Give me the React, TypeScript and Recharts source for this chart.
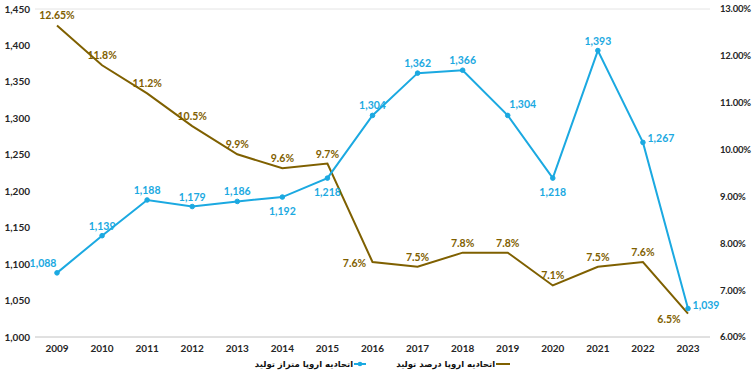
// نمودار اتحادیه اروپا: متراژ تولید (محور چپ) و درصد تولید (محور راست)، ۲۰۰۹ تا ۲۰۲۳
import { LineChart, Line, XAxis, YAxis, CartesianGrid, Legend } from 'recharts'

const years = ['2009', '2010', '2011', '2012', '2013', '2014', '2015', '2016', '2017', '2018', '2019', '2020', '2021', '2022', '2023']
const metrage = [1088, 1139, 1188, 1179, 1186, 1192, 1218, 1304, 1362, 1366, 1304, 1218, 1393, 1267, 1039]
const share = [12.65, 11.8, 11.2, 10.5, 9.9, 9.6, 9.7, 7.6, 7.5, 7.8, 7.8, 7.1, 7.5, 7.6, 6.5]
const shareLabels = ['12.65%', '11.8%', '11.2%', '10.5%', '9.9%', '9.6%', '9.7%', '7.6%', '7.5%', '7.8%', '7.8%', '7.1%', '7.5%', '7.6%', '6.5%']
const leftTicks = [1000, 1050, 1100, 1150, 1200, 1250, 1300, 1350, 1400, 1450]
const rightTicks = [6, 7, 8, 9, 10, 11, 12, 13]

const metrageName = 'اتحادیه اروپا متراز تولید'
const shareName = 'اتحادیه اروپا درصد تولید'

// جای برچسب‌ها نسبت به نقطه (مثل اکسل که بعضی را دستی جابه‌جا کرده)
const metragePlace = ['topLeft', 'top', 'top', 'top', 'top', 'bottom', 'bottom', 'top', 'top', 'top', 'topRight', 'bottom', 'top', 'right', 'right']
const sharePlace = ['top', 'top', 'top', 'top', 'top', 'top', 'top', 'left', 'top', 'top', 'top', 'top', 'top', 'top', 'leftBelow']

const BLUE = '#1BA9E1'
const BROWN = '#7F6000'
const FONT = 'Lato, "DejaVu Sans", sans-serif'

const offsets: Record<string, [number, number]> = {
  top: [0, -10],
  bottom: [0, 14],
  topLeft: [-14, -10],
  topRight: [15, -11],
  right: [18, -4],
  left: [-18, 1],
  leftBelow: [-19, 5],
}

const data = years.map((y, i) => ({ year: y, metrage: metrage[i], share: share[i] }))

function makeLabel(places: string[], color: string, fmt: (i: number, v: number) => string) {
  return (props: any) => {
    const { x, y, index, value } = props
    if (x == null || y == null) return null
    const [dx, dy] = offsets[places[index]] ?? offsets.top
    return (
      <text
        x={x + dx}
        y={y + dy}
        fill={color}
        fontSize={10.5}
        fontWeight={700}
        fontFamily={FONT}
        textAnchor="middle"
        dominantBaseline="central"
      >
        {fmt(index, value)}
      </text>
    )
  }
}

function LegendBox() {
  return (
    <div style={{ height: 14, display: 'flex', justifyContent: 'center', alignItems: 'center', paddingLeft: 12, fontFamily: '"DejaVu Sans", sans-serif', fontWeight: 700, fontSize: 8.5, color: '#111' }}>
      <span>{metrageName}</span>
      <svg width={12} height={8} style={{ marginLeft: 1 }}>
        <line x1={0} y1={4} x2={12} y2={4} stroke={BLUE} strokeWidth={2} />
        <circle cx={6} cy={4} r={2.3} fill={BLUE} />
      </svg>
      <span style={{ marginLeft: 30 }}>{shareName}</span>
      <svg width={14} height={8} style={{ marginLeft: 1 }}>
        <line x1={0} y1={4} x2={14} y2={4} stroke={BROWN} strokeWidth={2} />
      </svg>
    </div>
  )
}

export default function App() {
  const tickStyle = { fontSize: 10, fontWeight: 700, fill: '#262626', fontFamily: FONT }
  return (
    <div style={{ width: 753, height: 385, background: '#fff' }}>
      <style>{'body{margin:0}'}</style>
      <LineChart width={753} height={385} data={data} margin={{ top: 9, right: 0, bottom: 14, left: 0 }}>
        <CartesianGrid vertical={false} stroke="#e4e4e4" />
        <XAxis
          dataKey="year"
          tick={tickStyle}
          tickLine={false}
          axisLine={{ stroke: '#d0d0d0' }}
          height={20}
          padding={{ left: 22, right: 22 }}
        />
        <YAxis
          yAxisId="left"
          domain={[1000, 1450]}
          ticks={leftTicks}
          width={35}
          tickSize={3}
          tickLine={false}
          axisLine={false}
          tick={tickStyle}
          tickFormatter={(v: number) => v.toLocaleString('en-US')}
        />
        <YAxis
          yAxisId="right"
          orientation="right"
          domain={[6, 13]}
          ticks={rightTicks}
          width={43}
          tickSize={5}
          tickMargin={5}
          tickLine={false}
          axisLine={false}
          tick={{ ...tickStyle, fontSize: 9.5, letterSpacing: -0.2, textAnchor: 'start' }}
          tickFormatter={(v: number) => v.toFixed(2) + '%'}
        />
        <Legend verticalAlign="bottom" content={() => <LegendBox />} />
        <Line
          yAxisId="right"
          dataKey="share"
          name={shareName}
          stroke={BROWN}
          strokeWidth={2}
          dot={false}
          activeDot={false}
          isAnimationActive={false}
          label={makeLabel(sharePlace, BROWN, (i) => shareLabels[i])}
        />
        <Line
          yAxisId="left"
          dataKey="metrage"
          name={metrageName}
          stroke={BLUE}
          strokeWidth={2}
          dot={{ r: 2.3, fill: BLUE, stroke: BLUE, strokeWidth: 1 }}
          activeDot={false}
          isAnimationActive={false}
          label={makeLabel(metragePlace, BLUE, (_i, v) => v.toLocaleString('en-US'))}
        />
      </LineChart>
    </div>
  )
}
